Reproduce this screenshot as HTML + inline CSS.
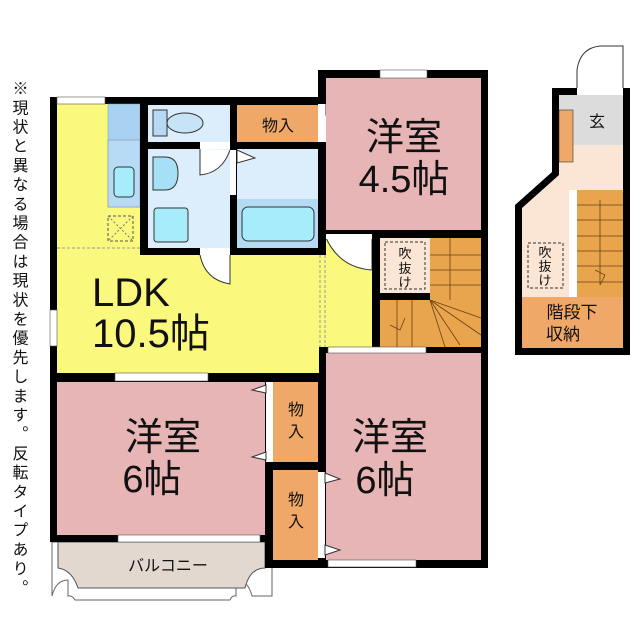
<!DOCTYPE html>
<html><head><meta charset="utf-8"><style>
body{margin:0;background:#fff}
svg{display:block}
text{font-family:"Liberation Sans","Noto Sans CJK JP",sans-serif;fill:#111}
</style></head><body>
<svg width="640" height="640" viewBox="0 0 640 640" xmlns="http://www.w3.org/2000/svg">
<rect width="640" height="640" fill="#fff"/>
<!-- vertical note -->
<text x="18" y="80" font-size="16" style="writing-mode:vertical-rl;font-family:'Liberation Sans','Noto Sans CJK JP',sans-serif" letter-spacing="3.2">※現状と異なる場合は現状を優先します。反転タイプあり。</text>

<!-- balcony -->
<path d="M52 542 L272 542 L272 596 L252 596 Q248 580 236 580 L236 596 Q232 595 230 600 L75 600 Q72 595 68 596 L68 580 Q56 580 52 596 Z" fill="#fff" stroke="#666" stroke-width="1"/>
<path d="M58 542 L265 542 L265 568 Q250 568 245 588 L78 588 Q72 570 58 568 Z" fill="#e2d8d0" stroke="#555" stroke-width="1"/>
<text x="168" y="571" font-size="16" text-anchor="middle">バルコニー</text>

<!-- black footprint -->
<rect x="50" y="97" width="438" height="445" fill="#000"/>
<rect x="318" y="70" width="170" height="40" fill="#000"/>
<rect x="265" y="535" width="223" height="33" fill="#000"/>

<!-- LDK -->
<rect x="57" y="104" width="262" height="269" fill="#fbf87e"/>
<rect x="319" y="238" width="53" height="109" fill="#fbf87e"/>
<line x1="57" y1="248" x2="140" y2="248" stroke="#999" stroke-dasharray="3,2"/>
<line x1="320" y1="255" x2="320" y2="347" stroke="#999" stroke-dasharray="3,2"/>
<line x1="325" y1="255" x2="325" y2="347" stroke="#999" stroke-dasharray="3,2"/>
<!-- counter -->
<rect x="108" y="104" width="32" height="103" fill="#a9d2f2" stroke="#6a9" stroke-width="0.5"/>
<rect x="108" y="140" width="32" height="67" fill="#b7dbf5" stroke="#789" stroke-width="0.5"/>
<rect x="114" y="167" width="20" height="30" rx="4" fill="#a6ecfb" stroke="#333"/>
<rect x="108" y="216" width="25" height="25" fill="none" stroke="#555" stroke-dasharray="3,2"/>
<path d="M108 216 L133 241 M133 216 L108 241" stroke="#777" stroke-dasharray="2,2"/>

<!-- wet block -->
<rect x="140" y="104" width="186" height="151" fill="#000"/>
<rect x="148" y="105" width="82" height="37" fill="#dcedfb"/>
<rect x="153" y="110" width="14" height="26" fill="#b7d9f4" stroke="#333"/>
<ellipse cx="185" cy="123" rx="18" ry="10" fill="#c6e3f8" stroke="#333"/>
<rect x="237" y="105" width="81" height="37" fill="#f0a868"/>
<text x="278" y="131" font-size="16" text-anchor="middle">物入</text>
<rect x="148" y="149" width="82" height="99" fill="#dcedfb"/>
<path d="M153 157 L165 157 Q178 157 178 173 Q178 190 165 190 L153 190 Z" fill="#a6e0f6" stroke="#333"/>
<rect x="154" y="208" width="34" height="34" rx="3" fill="#a6ecfb" stroke="#333"/>
<rect x="237" y="149" width="81" height="99" fill="#dcedfb"/>
<rect x="237" y="199" width="81" height="49" fill="#b5daf4"/>
<rect x="242" y="207" width="72" height="34" rx="6" fill="#a6ecfb" stroke="#333"/>
<!-- doors -->
<rect x="200" y="142" width="30" height="7" fill="#fff"/>
<path d="M200 149 L200 175 Q222 173 230 150" fill="#fff" stroke="#333"/>
<rect x="230" y="150" width="6" height="45" fill="#fff"/>
<path d="M237 150 L255 158 L237 163Z" fill="#fff" stroke="#333"/>
<rect x="200" y="248" width="30" height="7" fill="#fff"/>
<path d="M200 255 Q205 280 230 284 L230 255" fill="#fff" stroke="#333"/>
<rect x="318" y="104" width="8" height="38" fill="#fff"/>
<path d="M326 104 L340 110 L326 115Z" fill="#fff" stroke="#333"/>

<!-- 4.5 room -->
<rect x="326" y="78" width="155" height="152" fill="#e7b5b5"/>
<rect x="380" y="70" width="47" height="8" fill="#fff" stroke="#555" stroke-width="0.6"/>
<text x="404" y="150" font-size="38" text-anchor="middle">洋室</text>
<text x="404" y="192" font-size="38" text-anchor="middle">4.5帖</text>
<path d="M326 238 L372 238 L372 270 Q340 268 326 238Z" fill="#fff" stroke="#333"/>
<rect x="326" y="234" width="46" height="5" fill="#fff"/>

<!-- stairs -->
<rect x="430" y="238" width="51" height="109" fill="#e8a54e"/>
<rect x="380" y="300" width="101" height="47" fill="#e8a54e"/>
<g stroke="#6a4010" stroke-width="0.8">
<line x1="450" y1="238" x2="450" y2="300"/><line x1="430" y1="255" x2="481" y2="255"/><line x1="430" y1="270" x2="481" y2="270"/><line x1="430" y1="285" x2="481" y2="285"/>
<line x1="397" y1="300" x2="397" y2="347"/><line x1="412" y1="300" x2="412" y2="347"/><line x1="430" y1="300" x2="445" y2="347"/><line x1="430" y1="300" x2="460" y2="345"/><line x1="430" y1="300" x2="481" y2="335"/><line x1="430" y1="300" x2="481" y2="318"/>
<path d="M390 325 L400 330 L405 318" fill="none"/>
</g>
<rect x="372" y="230" width="8" height="70" fill="#000"/>
<rect x="372" y="293" width="58" height="7" fill="#000"/>
<rect x="380" y="238" width="50" height="55" fill="#fbe6d6"/>
<rect x="385" y="242" width="40" height="47" fill="none" stroke="#333" stroke-dasharray="3,2"/>
<text x="405" y="258" font-size="13" text-anchor="middle">吹</text>
<text x="405" y="273" font-size="13" text-anchor="middle">抜</text>
<text x="405" y="287" font-size="13" text-anchor="middle">け</text>

<!-- right 6 room -->
<rect x="326" y="353" width="155" height="207" fill="#e7b5b5"/>
<rect x="328" y="347" width="98" height="6" fill="#fff" stroke="#555" stroke-width="0.6"/>
<rect x="328" y="560" width="88" height="7" fill="#fff" stroke="#555" stroke-width="0.6"/>
<text x="390" y="450" font-size="38" text-anchor="middle">洋室</text>
<text x="385" y="493" font-size="38" text-anchor="middle">6帖</text>
<!-- left 6 room -->
<rect x="57" y="382" width="208" height="153" fill="#e7b5b5"/>
<rect x="115" y="373" width="93" height="8" fill="#fff" stroke="#555" stroke-width="0.6"/>
<rect x="118" y="535" width="142" height="7" fill="#fff" stroke="#555" stroke-width="0.6"/>
<rect x="50" y="310" width="7" height="36" fill="#fff" stroke="#555" stroke-width="0.6"/>
<rect x="57" y="97" width="48" height="7" fill="#fff" stroke="#555" stroke-width="0.6"/>
<text x="163" y="450" font-size="38" text-anchor="middle">洋室</text>
<text x="152" y="492" font-size="38" text-anchor="middle">6帖</text>
<!-- closets -->
<rect x="273" y="382" width="45" height="80" fill="#f0a868"/>
<rect x="273" y="470" width="45" height="90" fill="#f0a868"/>
<rect x="266" y="382" width="7" height="80" fill="#fff"/>
<path d="M266 385 L252 390 L266 393Z M266 452 L252 457 L266 460Z" fill="#fff" stroke="#333"/>
<rect x="318" y="472" width="7" height="86" fill="#fff"/>
<path d="M325 473 L340 479 L325 483Z M325 545 L340 550 L325 555Z" fill="#fff" stroke="#333"/>
<text x="296" y="415" font-size="16" text-anchor="middle">物</text>
<text x="296" y="437" font-size="16" text-anchor="middle">入</text>
<text x="296" y="505" font-size="16" text-anchor="middle">物</text>
<text x="296" y="527" font-size="16" text-anchor="middle">入</text>

<!-- right annex -->
<path d="M577 88 L577 70 Q580 48 600 46 L623 46 L623 88" fill="none" stroke="#333"/>
<polygon points="552,88 630,88 630,355 515,355 515,205 552,172" fill="#000"/>
<polygon points="559,95 623,95 623,348 522,348 522,208 559,175" fill="#fbe6d6"/>
<rect x="577" y="88" width="46" height="7" fill="#fff"/>
<rect x="559" y="95" width="64" height="50" fill="#dcdcdc"/>
<text x="597" y="127" font-size="16" text-anchor="middle">玄</text>
<rect x="559" y="110" width="14" height="52" fill="#f0a868" stroke="#333" stroke-width="0.6"/>
<rect x="569" y="190" width="8" height="107" fill="#fff"/>
<rect x="577" y="190" width="46" height="107" fill="#e8a54e"/>
<g stroke="#6a4010" stroke-width="0.8">
<line x1="577" y1="205" x2="623" y2="205"/><line x1="577" y1="220" x2="623" y2="220"/><line x1="577" y1="236" x2="623" y2="236"/><line x1="577" y1="251" x2="623" y2="251"/><line x1="577" y1="266" x2="623" y2="266"/><line x1="577" y1="282" x2="623" y2="282"/>
<line x1="600" y1="200" x2="600" y2="285"/><path d="M595 270 L605 275 L600 285" fill="none"/>
</g>
<rect x="522" y="297" width="101" height="51" fill="#f0a868"/>
<rect x="528" y="243" width="35" height="45" fill="none" stroke="#333" stroke-dasharray="3,2"/>
<text x="545" y="257" font-size="13" text-anchor="middle">吹</text>
<text x="545" y="271" font-size="13" text-anchor="middle">抜</text>
<text x="545" y="285" font-size="13" text-anchor="middle">け</text>
<text x="572" y="318" font-size="17" text-anchor="middle">階段下</text>
<text x="563" y="340" font-size="17" text-anchor="middle">収納</text>

<!-- LDK text -->
<text x="92" y="306" font-size="40">LDK</text>
<text x="92" y="347" font-size="40">10.5帖</text>
</svg>
</body></html>
